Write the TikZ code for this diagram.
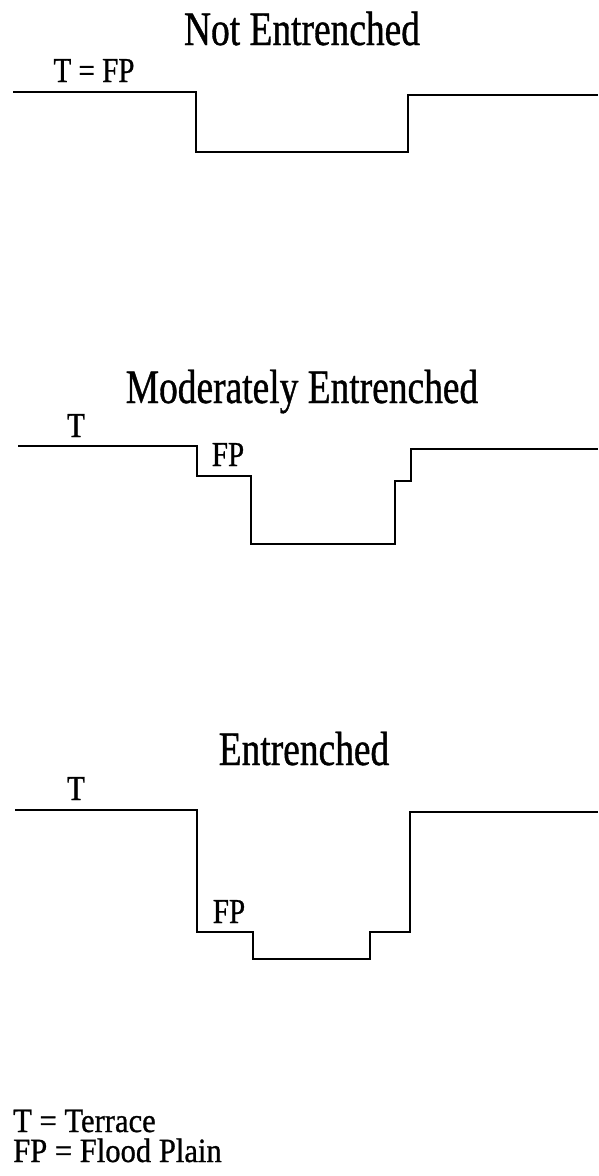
\documentclass[tikz,border=0pt]{standalone}
\usepackage{fontspec}
\setmainfont{Liberation Serif}[FakeStretch=0.78,FakeBold=0.8]
\newfontfamily\tagfont{Liberation Serif}[FakeStretch=0.83,FakeBold=0.8]
\newfontfamily\keyfont{Liberation Serif}[FakeStretch=0.9,FakeBold=0.8]
\begin{document}
\begin{tikzpicture}[x=1pt,y=-1pt,
  profile/.style={line width=2.7pt,line join=miter},
  heading/.style={anchor=base,inner sep=0pt,font=\fontsize{48}{50}\selectfont},
  tag/.style={anchor=base,inner sep=0pt,font=\tagfont\fontsize{35}{37}\selectfont},
  legend/.style={anchor=base west,inner sep=0pt,font=\keyfont\fontsize{34}{36}\selectfont}]
\useasboundingbox (0,0) rectangle (598,1176);

% Not entrenched: terrace and flood plain at one level
\node[heading] (t1) at (302,45) {Not Entrenched};
\node[tag] (l1) at (94,82) {T = FP};
\draw[profile] (13,92) -- (196,92) -- (196,152) -- (408,152) -- (408,95) -- (598,95);

% Moderately entrenched: a narrow flood-plain bench below the terrace
\node[heading] (t2) at (302,403) {Moderately Entrenched};
\node[tag] (l2a) at (76,437) {T};
\node[tag] (l2b) at (228,466) {FP};
\draw[profile] (18,446) -- (197,446) -- (197,476) -- (251,476) -- (251,544)
  -- (395,544) -- (395,481) -- (411,481) -- (411,449) -- (598,449);

% Entrenched: flood plain deep inside the cut
\node[heading] (t3) at (304,765) {Entrenched};
\node[tag] (l3a) at (76,800) {T};
\node[tag] (l3b) at (229,923) {FP};
\draw[profile] (15,810) -- (197,810) -- (197,932) -- (253,932) -- (253,959)
  -- (370,959) -- (370,932) -- (410,932) -- (410,812) -- (598,812);

% Key
\node[legend] (k1) at (13,1132) {T = Terrace};
\node[legend] (k2) at (13,1162) {FP = Flood Plain};
\end{tikzpicture}
\end{document}
